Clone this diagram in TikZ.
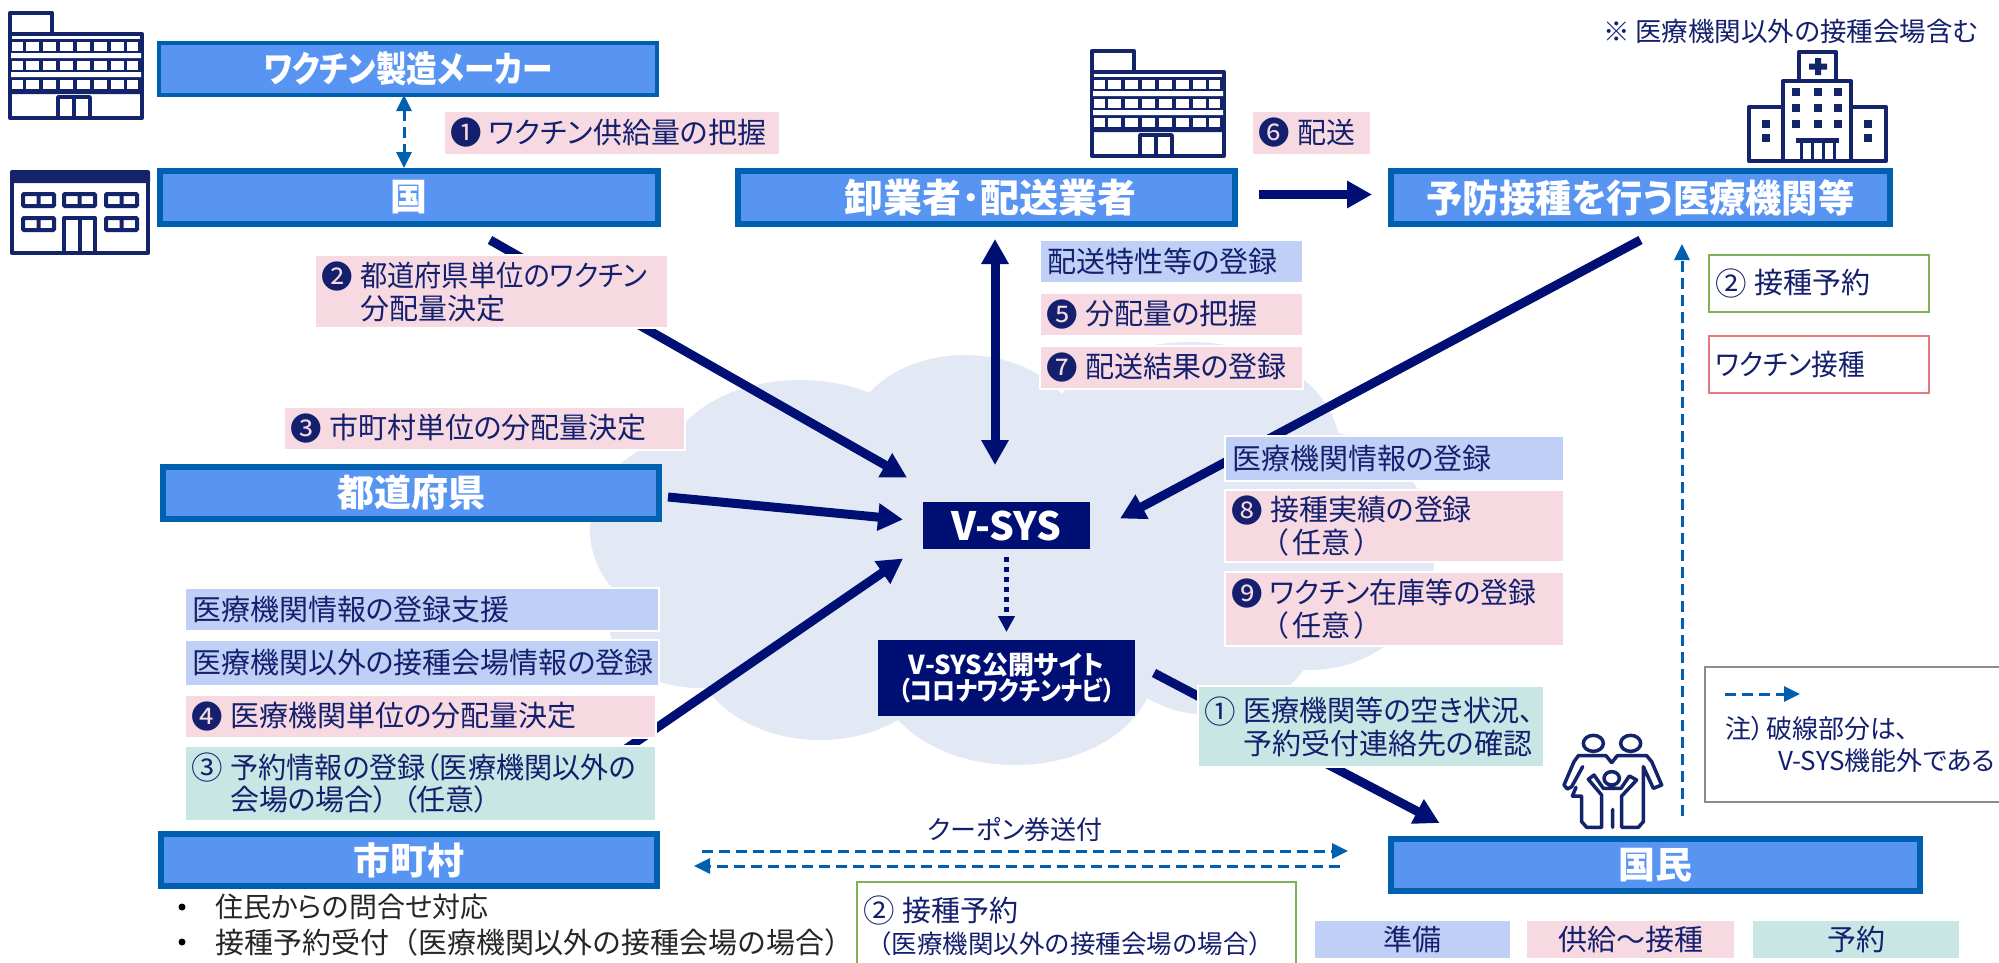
\documentclass[tikz,border=0pt]{standalone}
\usepackage{graphicx}
\usepackage{fontspec}
\setmainfont{Noto Sans CJK JP}[RawFeature={+palt}]
\newfontfamily\fp{Noto Sans CJK JP}
\usetikzlibrary{arrows.meta,calc}
\definecolor{navy}{HTML}{000F73}
\definecolor{ink}{HTML}{14206E}
\definecolor{icon}{HTML}{14246A}
\definecolor{boxfill}{HTML}{5894F2}
\definecolor{boxline}{HTML}{0060B0}
\definecolor{pinkl}{HTML}{F7D9E2}
\definecolor{bluel}{HTML}{BFCFF6}
\definecolor{teall}{HTML}{C7E6E4}
\definecolor{cloudc}{HTML}{E3E8F5}
\definecolor{greenl}{HTML}{7FB257}
\definecolor{redl}{HTML}{E57B7B}
\pgfdeclarelayer{cloudlayer}
\pgfdeclarelayer{connlayer}
\pgfsetlayers{cloudlayer,connlayer,main}
\newcommand\fs[1]{\fontsize{#1}{32.5}\selectfont}
\newcommand\sx[2]{\scalebox{#1}[1]{#2}}
\newcommand\nm[1]{\makebox[38pt][l]{\hspace*{-1pt}\raisebox{-1.5pt}{\fontsize{31.5}{33}\selectfont #1}}}
\newcommand\hg{\hspace*{38pt}}
\newcommand\nini{\hspace*{4pt}（\hspace{4pt}任意\hspace{4pt}）}
\newcommand\boxat[7]{%
  \pgfmathsetmacro\bxw{#5-#3}\pgfmathsetmacro\bxh{#6-#4}%
  \pgfmathsetmacro\bxx{(#3+#5)/2}\pgfmathsetmacro\bxy{(#4+#6)/2}%
  \node[#1,minimum width=\bxw pt,minimum height=\bxh pt,text width=\bxw pt-14pt] (#2) at (\bxx,\bxy) {#7};}
\newcommand\factory{%
  \draw[icon,line width=4pt,line join=round] (2,24) rectangle (44,3) (2,24) rectangle (134,108);
  \fill[icon] (2,29) rectangle (134,45) (2,45) rectangle (134,56) (2,56) rectangle (134,65) (2,65) rectangle (134,84);
  \fill[white] (3,43) rectangle (133,48) (3,62) rectangle (133,67);
  \foreach \y in {32,51,70}{
    \foreach \a/\b in {4/15,18/31,35/48,52/65,69/82,86/99,103/116,119/130}{
      \fill[white] (\a,\y) rectangle (\b,\y+9);}}
  \draw[icon,line width=3.5pt,line join=round] (50,108) -- (50,87) -- (82,87) -- (82,108) (66,87) -- (66,108);
}
\begin{document}
\begin{tikzpicture}[x=1pt,y=-1pt,
  every node/.style={inner sep=0pt,outer sep=0pt,text=ink},
  mainbox/.style={draw=boxline,fill=boxfill,line width=6pt,align=center,text=white,font=\fs{37}\bfseries},
  thinbox/.style={mainbox,line width=4pt},
  darkbox/.style={fill=navy,align=center,text=white},
  lab/.style={fill=#1,draw=white,line width=1.5pt,align=left,font=\fs{29}},
  legendbox/.style={fill=#1,align=center,font=\fs{29}},
  framebox/.style={draw=#1,fill=white,line width=2.5pt,align=left,font=\fs{29}},
  bigarrow/.style={draw=navy,line width=9pt,-{Triangle[length=25pt,width=26pt]}},
  bigdouble/.style={bigarrow,{Triangle[length=25pt,width=26pt]}-{Triangle[length=25pt,width=26pt]}},
  dasharrow/.style={draw=boxline,line width=3pt,dash pattern=on 11pt off 6pt,-{Triangle[length=16pt,width=15pt]}},
  dashdouble/.style={dasharrow,{Triangle[length=16pt,width=15pt]}-{Triangle[length=16pt,width=15pt]}},
  dotarrow/.style={draw=navy,line width=4.5pt,dash pattern=on 5pt off 5pt,-{Triangle[length=16pt,width=16pt]}},
  ]
\useasboundingbox (0,0) rectangle (1999,962);
\begin{pgfonlayer}{cloudlayer}
  \fill[white] (0,0) rectangle (1999,962);
  \fill[cloudc]
    (690,530) ellipse [x radius=100,y radius=92]
    (800,470) ellipse [x radius=135,y radius=90]
    (965,440) ellipse [x radius=115,y radius=85]
    (1190,450) ellipse [x radius=150,y radius=108]
    (1310,550) ellipse [x radius=125,y radius=120]
    (1210,620) ellipse [x radius=110,y radius=95]
    (1015,665) ellipse [x radius=140,y radius=100]
    (820,640) ellipse [x radius=130,y radius=100]
    (700,630) ellipse [x radius=90,y radius=58]
    (1000,550) ellipse [x radius=300,y radius=150];
\end{pgfonlayer}
% icons
\begin{scope}[shift={(8,10)}]\factory\end{scope}
\begin{scope}[shift={(1090,48)}]\factory\end{scope}
% government building
\begin{scope}[icon]
  \fill[icon,rounded corners=1.5pt] (10,171) rectangle (150,183);
  \draw[icon,line width=4pt,line join=round] (12,172) rectangle (148,253);
  \foreach \a/\yy in {21/192,62/192,104/192,21/216,104/216}{
    \draw[icon,line width=4pt,rounded corners=1pt,fill=white] (\a+2,\yy+2) rectangle (\a+33,\yy+14) (\a+17.5,\yy+2) -- (\a+17.5,\yy+14);}
  \draw[icon,line width=4pt,line join=round] (64,253) -- (64,218) -- (95,218) -- (95,253) (79.5,218) -- (79.5,253);
\end{scope}
% hospital
\begin{scope}
  \draw[icon,line width=4pt,line join=round]
    (1799,79) -- (1799,52) -- (1836,52) -- (1836,79)
    (1783,161) -- (1783,81) -- (1851,81) -- (1851,161)
    (1783,107) -- (1749,107) -- (1749,161) -- (1886,161) -- (1886,107) -- (1851,107);
  \fill[icon] (1815,58) rectangle (1821,75) (1809,63.5) rectangle (1827,69.5);
  \foreach \x in {1796,1817.6,1838}{\foreach \y in {92,108,124}{
    \fill[icon] (\x-4,\y-4) rectangle (\x+4,\y+4);}}
  \foreach \x in {1766,1868}{\foreach \y in {124,138}{
    \fill[icon] (\x-4,\y-4) rectangle (\x+4,\y+4);}}
  \fill[icon] (1796,138) rectangle (1839,143);
  \draw[icon,line width=3pt] (1801,143) -- (1801,161) (1812,143) -- (1812,161) (1823,143) -- (1823,161) (1834,143) -- (1834,161);
\end{scope}
% family
\begin{scope}[shift={(1540,720)},x=0.3333pt,y=-0.3333pt]
  \draw[icon,line width=3.5pt,line join=round,line cap=round]
    (160,70) ellipse [x radius=30,y radius=24]
    (272,70) ellipse [x radius=30,y radius=24]
    (215,175) ellipse [x radius=23,y radius=20]
    (218,268) -- (218,322)
    (215,128) -- (198,107) -- (115,107) -- (102,125) -- (72,195) -- (82,207) -- (95,200) -- (128,140)
    (108,202) -- (97,228) -- (125,228) -- (125,305) -- (140,322) -- (185,322) -- (185,225) -- (145,178) -- (162,165) -- (190,205) -- (243,205) -- (268,168) -- (290,180) -- (245,228) -- (245,322) -- (295,322) -- (310,305) -- (310,140) -- (340,205) -- (365,195) -- (335,125) -- (320,107) -- (232,107) -- (215,128);
\end{scope}
% main boxes
\boxat{thinbox}{maker}{159}{43}{657}{95}{\sx{.85}{\fontsize{36}{36}\selectfont ワクチン製造メーカー}}
\boxat{mainbox}{kuni}{160}{171}{658}{224}{国}
\boxat{mainbox}{oroshi}{738}{171}{1235}{224}{\fontsize{39}{40}\selectfont\hspace*{8pt}卸業者･配送業者}
\boxat{mainbox}{yobo}{1391}{171}{1890}{224}{\fontsize{38}{38}\selectfont\sx{.955}{予防接種を行う医療機関等}}
\boxat{mainbox}{todo}{163}{467}{659}{519}{都道府県}
\boxat{mainbox}{shi}{161}{834}{657}{886}{市町村}
\boxat{mainbox}{kokumin}{1391}{839}{1920}{891}{国民}
\boxat{darkbox}{vsys}{923}{502}{1090}{549}{\fontsize{39}{40}\selectfont\bfseries V-SYS}
\boxat{darkbox}{site}{878}{640}{1135}{716}{\fontsize{26}{32}\selectfont\bfseries V-SYS公開サイト\\\sx{.88}{（コロナワクチンナビ）}}
% labels
\boxat{lab=pinkl}{l1}{444}{111}{780}{155}{\nm{❶}ワクチン供給量の把握}
\boxat{lab=pinkl}{l2}{315}{255}{668}{328}{\nm{❷}\sx{.94}{都道府県単位のワクチン}\\\hg 分配量決定}
\boxat{lab=pinkl}{l3}{284}{407}{685}{450}{\nm{❸}市町村単位の分配量決定}
\boxat{lab=bluel}{lh}{1040}{240}{1303}{283}{配送特性等の登録}
\boxat{lab=pinkl}{l5}{1040}{293}{1303}{336}{\nm{❺}分配量の把握}
\boxat{lab=pinkl}{l7}{1040}{346}{1303}{389}{\nm{❼}配送結果の登録}
\boxat{lab=pinkl}{l6}{1252}{111}{1371}{155}{\nm{❻}配送}
\boxat{framebox=greenl}{g2}{1709}{255}{1929}{312}{\nm{②}接種予約}
\boxat{framebox=redl}{r1}{1709}{336}{1929}{393}{\sx{.92}{ワクチン接種}}
\boxat{lab=bluel}{li}{1225}{436}{1564}{481}{医療機関情報の登録}
\boxat{lab=pinkl}{l8}{1225}{490}{1564}{562}{\nm{❽}接種実績の登録\\\hg\nini}
\boxat{lab=pinkl}{l9}{1225}{572}{1564}{646}{\nm{❾}\sx{.96}{ワクチン在庫等の登録}\\\hg\nini}
\boxat{lab=teall}{t1}{1198}{686}{1544}{767}{\nm{①}\sx{.97}{医療機関等の空き状況、}\\\hg 予約受付連絡先の確認}
\boxat{lab=bluel}{la}{185}{588}{659}{631}{医療機関情報の登録支援}
\boxat{lab=bluel}{lb}{185}{640}{659}{686}{医療機関以外の接種会場情報の登録}
\boxat{lab=pinkl}{l4}{185}{695}{656}{738}{\nm{❹}医療機関単位の分配量決定}
\boxat{lab=teall}{t3}{185}{746}{656}{821}{\nm{③}\sx{.97}{予約情報の登録（医療機関以外の}\\\hg 会場の場合）\hspace{14pt}（任意）}
\boxat{framebox=greenl}{g3}{857}{882}{1296}{970}{\fontsize{29}{35}\selectfont\nm{②}接種予約\\[-3pt]\hspace*{2pt}{\fp\fontsize{25.5}{35}\selectfont（医療機関以外の接種会場の場合）}\\[9pt]}
\boxat{legendbox=bluel}{k1}{1315}{921}{1510}{958}{準備}
\boxat{legendbox=pinkl}{k2}{1527}{921}{1734}{958}{供給～接種}
\boxat{legendbox=teall}{k3}{1753}{921}{1959}{958}{予約}
\boxat{framebox=gray!90}{note}{1705}{667}{2010}{802}{\fontsize{26}{33}\selectfont\hspace*{13pt}\\[9pt]\hspace*{13pt}注）\hspace{2pt}破線部分は、\\\hspace*{66pt}V-SYS機能外である}
% free texts
\node[font=\fs{26.5},anchor=west] (tnote) at (1603,31) {※ 医療機関以外の接種会場含む};
\node[font=\fs{26}] (tcoupon) at (1015,830) {クーポン券送付};
\node[font=\fs{28},anchor=west,text=black!85] (b1) at (215,907) {住民からの問合せ対応};
\node[font=\fp\fontsize{29}{33}\selectfont,anchor=west,text=black!85] (b2) at (215,942) {接種予約受付（医療機関以外の接種会場の場合）};
\fill[black] (182,907) circle (3.5) (182,942) circle (3.5);
% connectors
\begin{pgfonlayer}{connlayer}
  \draw[dashdouble] ($(maker.south)+(-4,0)$) -- ($(kuni.north)+(-5,-3)$);
  \draw[bigarrow] ($(kuni.south)+(81,16)$) -- ($(vsys.west)+(-16,-48)$);
  \draw[bigarrow] ($(todo.east)+(9,4)$) -- ($(vsys.west)+(-20,-6)$);
  \draw[bigarrow] ($(shi.north)+(211,-81)$) -- ($(vsys.west)+(-20,33)$);
  \draw[bigdouble] ($(oroshi.south)+(8.5,15)$) -- ($(vsys.north)+(-11.5,-37)$);
  \draw[bigarrow] ($(yobo.south)+(0,16)$) -- ($(vsys.east)+(30,-7)$);
  \draw[dotarrow] ($(vsys.south)+(0,8)$) -- ($(site.north)+(0,-8)$);
  \draw[bigarrow] ($(site.east)+(19,-5)$) -- ($(kokumin.north)+(-216,-16)$);
  \draw[bigarrow] ($(oroshi.east)+(24,-3)$) -- ($(yobo.west)+(-19,-3)$);
  \draw[dasharrow] ($(kokumin.north)+(26.5,-23)$) -- ($(yobo.south)+(41.5,20)$);
  \draw[dasharrow] ($(shi.east)+(45,-9)$) -- ($(kokumin.west)+(-43,-14)$);
  \draw[dasharrow] ($(kokumin.west)+(-51,1)$) -- ($(shi.east)+(37,6)$);
\end{pgfonlayer}
\draw[dasharrow] ($(note.north west)+(20,27)$) -- ($(note.north west)+(95,27)$);
\end{tikzpicture}
\end{document}
